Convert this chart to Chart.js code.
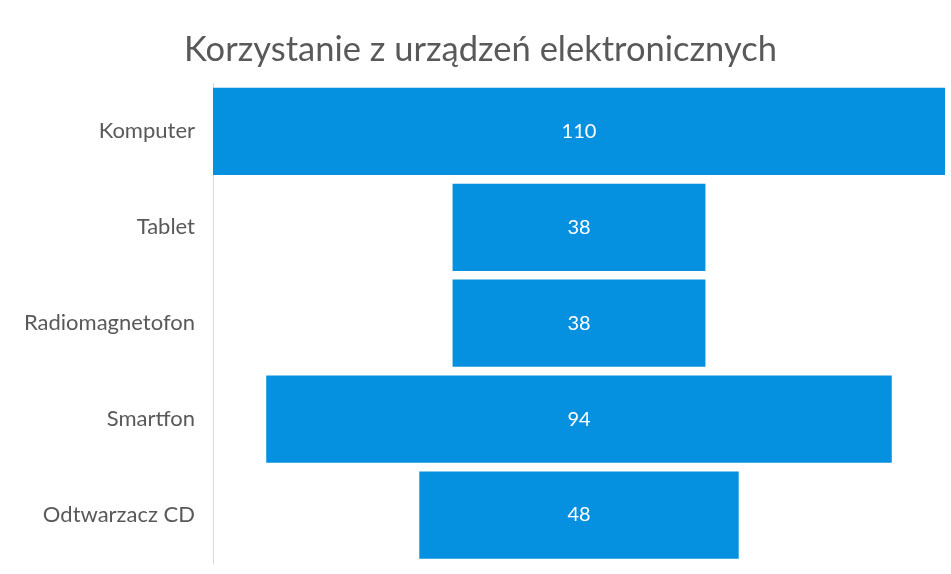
<!DOCTYPE html>
<html>
<head>
<meta charset="utf-8">
<script src="https://cdn.jsdelivr.net/npm/chart.js@4/dist/chart.umd.min.js"></script>
<style>
  html, body { margin: 0; padding: 0; background: #fff; }
  #wrap { width: 951px; height: 574px; }
</style>
</head>
<body>
<div id="wrap"><canvas id="myChart" width="951" height="574"></canvas></div>
<script>
const kategorie = ['Komputer', 'Tablet', 'Radiomagnetofon', 'Smartfon', 'Odtwarzacz CD'];
const wartosci = [110, 38, 38, 94, 48];
const tytul = 'Korzystanie z urządzeń elektronicznych';

// lejek: kazdy pasek wysrodkowany wokol zera
const zakresy = wartosci.map(v => [-v / 2, v / 2]);

const etykietyWartosci = {
  id: 'etykietyWartosci',
  afterDatasetsDraw(chart) {
    const ctx = chart.ctx;
    const meta = chart.getDatasetMeta(0);
    ctx.save();
    ctx.fillStyle = '#ffffff';
    ctx.font = '20px Lato';
    ctx.textAlign = 'center';
    ctx.textBaseline = 'middle';
    meta.data.forEach((bar, i) => {
      const p = bar.getProps(['x', 'base', 'y'], true);
      ctx.fillText(wartosci[i], (p.x + p.base) / 2, p.y);
    });
    ctx.restore();
  }
};

const ctx = document.getElementById('myChart').getContext('2d');
const chart = new Chart(ctx, {
  type: 'bar',
  data: {
    labels: kategorie,
    datasets: [{
      data: zakresy,
      backgroundColor: '#0590e0',
      borderWidth: 0,
      barPercentage: 0.91,
      categoryPercentage: 1
    }]
  },
  options: {
    indexAxis: 'y',
    responsive: false,
    animation: false,
    layout: { padding: { left: 16, right: 6, top: 0, bottom: 11 } },
    plugins: {
      legend: { display: false },
      tooltip: { enabled: false },
      title: {
        display: true,
        text: tytul,
        color: '#595959',
        font: { family: 'Lato', size: 34.5, weight: 'normal' },
        padding: { top: 29, bottom: 13 }
      }
    },
    scales: {
      x: { display: false, min: -55, max: 55 },
      y: {
        afterFit(axis) {
          axis.width = 197;
          axis.paddingTop = 0;
          axis.paddingBottom = 0;
        },
        grid: { drawOnChartArea: false, drawTicks: false },
        border: { display: true, color: '#d9d9d9', width: 1 },
        ticks: { color: '#595959', font: { family: 'Lato', size: 22 }, padding: 18 }
      }
    }
  },
  plugins: [etykietyWartosci]
});
</script>
</body>
</html>
